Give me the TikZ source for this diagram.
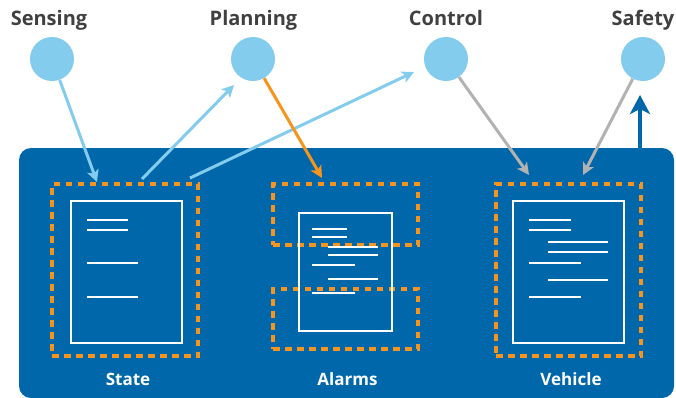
\documentclass[tikz,border=0pt]{standalone}
\usepackage{fontspec}
\setmainfont{Open Sans}
\usetikzlibrary{arrows.meta,calc}
\definecolor{panelblue}{RGB}{0,104,170}
\definecolor{lightblue}{RGB}{132,204,238}
\definecolor{dashorange}{RGB}{247,148,29}
\definecolor{arrowgray}{RGB}{178,178,178}
\definecolor{labelgray}{RGB}{64,64,64}
\begin{document}
\begin{tikzpicture}[x=1pt,y=-1pt,
  panel/.style={fill=panelblue,draw=none,rounded corners=12pt,inner sep=0pt},
  agent/.style={circle,fill=lightblue,draw=none,minimum size=44pt,inner sep=0pt},
  toplabel/.style={anchor=base,text=labelgray,font=\fontsize{20}{24}\selectfont\bfseries,inner sep=0pt},
  botlabel/.style={anchor=base,text=white,font=\fontsize{17}{20}\selectfont\bfseries,inner sep=0pt},
  region/.style={draw=dashorange,line width=3.4pt,dash pattern=on 6.5pt off 5.5pt,inner sep=0pt},
  doc/.style={draw=white,line width=1.4pt,inner sep=0pt},
  docline/.style={draw=white,line width=1.3pt},
  flowblue/.style={draw=lightblue,line width=3pt,-{Stealth[length=12pt,width=12pt,inset=3pt]}},
  floworange/.style={draw=dashorange,line width=3pt,-{Stealth[length=12pt,width=12pt,inset=3pt]}},
  flowgray/.style={draw=arrowgray,line width=3pt,-{Stealth[length=12pt,width=12pt,inset=3pt]}},
  flowup/.style={draw=panelblue,line width=4.5pt,-{Stealth[length=19pt,width=20pt,inset=5pt]}}
]
\useasboundingbox (0,0) rectangle (676,397);
% panel
\node[panel,minimum width=655pt,minimum height=250pt] (panel) at (346.5,273) {};
% agents
\node[agent] (sensing) at (52,59) {};
\node[agent] (planning) at (253,59) {};
\node[agent] (control) at (446,59) {};
\node[agent] (safety) at (643,59) {};
\node[toplabel] (sensingl) at (49,25) {Sensing};
\node[toplabel] (planningl) at (253.5,25) {Planning};
\node[toplabel] (controll) at (446,25) {Control};
\node[toplabel] (safetyl) at (643,25) {Safety};
% regions
\node[region,minimum width=146pt,minimum height=172pt] (statebox) at (125,270) {};
\node[region,minimum width=145pt,minimum height=61pt] (alarmtop) at (345.5,214.5) {};
\node[region,minimum width=145pt,minimum height=60pt] (alarmbot) at (345.5,319) {};
\node[region,minimum width=145pt,minimum height=172pt] (vehiclebox) at (568.5,270) {};
% documents
\node[doc,minimum width=111pt,minimum height=142pt] (statedoc) at (126.5,272) {};
\node[doc,minimum width=93pt,minimum height=118pt] (alarmdoc) at (345.5,272) {};
\node[doc,minimum width=111pt,minimum height=142pt] (vehicledoc) at (568.5,272) {};
% document text lines
\draw[docline] (87,220) -- (128,220) (87,230) -- (128,230) (87,263) -- (138,263) (87,297) -- (138,297);
\draw[docline] (312,229) -- (347,229) (312,237) -- (347,237) (328,247) -- (378,247) (328,255) -- (378,255)
  (312,265) -- (355,265) (328,279) -- (378,279) (312,293) -- (355,293);
\draw[docline] (529,220) -- (571,220) (529,230) -- (571,230) (548,242) -- (608,242) (548,252) -- (608,252)
  (529,263) -- (581,263) (548,280) -- (608,280) (529,297) -- (581,297);
% bottom labels
\node[botlabel] (statel) at (128,385) {State};
\node[botlabel] (alarmsl) at (347.5,385) {Alarms};
\node[botlabel] (vehiclel) at (571,385) {Vehicle};
% connector end points
\coordinate (sensTip) at (97,182);
\coordinate (stateOut1) at (142,179);
\coordinate (planTip) at (234,85);
\coordinate (stateOut2) at (190,178);
\coordinate (ctrlTip) at (414,72);
\coordinate (alarmTip) at (322,178);
\coordinate (vehTip1) at (529,175);
\coordinate (vehTip2) at (583,175);
\coordinate (upStart) at (640,149);
\coordinate (upTip) at (640,95);
% connectors
\draw[flowblue] (sensing) -- (sensTip);
\draw[flowblue] (stateOut1) -- (planTip);
\draw[flowblue] (stateOut2) -- (ctrlTip);
\draw[floworange] (planning) -- (alarmTip);
\draw[flowgray] (control) -- (vehTip1);
\draw[flowgray] (safety) -- (vehTip2);
\draw[flowup] (upStart) -- (upTip);
\end{tikzpicture}
\end{document}
